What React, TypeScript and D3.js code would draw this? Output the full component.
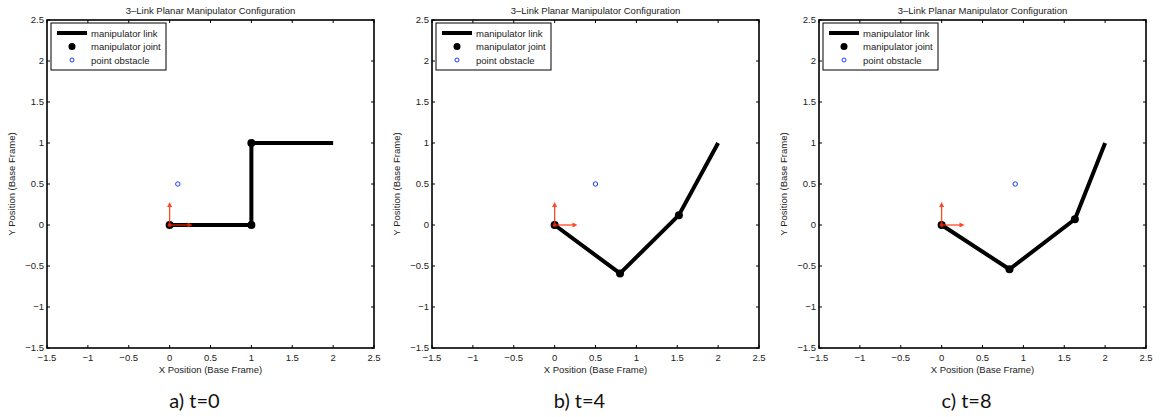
import React from 'react'
import * as d3 from 'd3'

// tick values shared by both axes
const xTicks = [-1.5, -1, -0.5, 0, 0.5, 1, 1.5, 2, 2.5]
const yTicks = [-1.5, -1, -0.5, 0, 0.5, 1, 1.5, 2, 2.5]

const captions = ['a) t=0', 'b) t=4', 'c) t=8']

// manipulator configurations: base, joint 2, joint 3, end effector
const t0X = [0, 1, 1, 2]
const t0Y = [0, 0, 1, 1]
const t4X = [0, 0.8, 1.52, 2]
const t4Y = [0, -0.59, 0.12, 1]
const t8X = [0, 0.83, 1.63, 2]
const t8Y = [0, -0.54, 0.07, 1]

// obstacle position per frame
const obstacleX = [0.1, 0.5, 0.9]
const obstacleY = [0.5, 0.5, 0.5]

// base frame arrow length
const frameLen = 0.28

const legendItems = ['manipulator link', 'manipulator joint', 'point obstacle']

const configsX = [t0X, t4X, t8X]
const configsY = [t0Y, t4Y, t8Y]

const panelLeft = [47, 432, 819]
const plotW = 327
const plotH = 328
const plotTop = 20
const font = '"Liberation Sans", Arial, sans-serif'
const red = '#ff2a00'

function Panel({ idx }: { idx: number }) {
  const left = panelLeft[idx]
  const x = d3.scaleLinear().domain([-1.5, 2.5]).range([left, left + plotW])
  const y = d3.scaleLinear().domain([-1.5, 2.5]).range([plotTop + plotH, plotTop])
  const xs = configsX[idx]
  const ys = configsY[idx]
  const pts = xs.map((v, i) => [x(v), y(ys[i])] as [number, number])
  const line = d3.line()(pts) || ''
  const bottom = plotTop + plotH
  const right = left + plotW
  const tickLen = 3
  const cx = left + plotW / 2
  const cy = plotTop + plotH / 2
  const ox = x(0), oy = y(0)
  const ax = x(frameLen), ay = y(frameLen)

  return (
    <g fontFamily={font} fill="#222">
      <rect x={left} y={plotTop} width={plotW} height={plotH} fill="#fff" />
      <text x={cx} y={plotTop - 6} fontSize={9.5} textAnchor="middle">3–Link Planar Manipulator Configuration</text>

      {/* ticks on all four sides */}
      {xTicks.map(t => (
        <g key={'x' + t}>
          <line x1={x(t)} x2={x(t)} y1={bottom} y2={bottom - tickLen} stroke="#000" />
          <line x1={x(t)} x2={x(t)} y1={plotTop} y2={plotTop + tickLen} stroke="#000" />
          <text x={x(t)} y={bottom + 13} fontSize={9.5} textAnchor="middle">{d3.format('')(t).replace('-', '−')}</text>
        </g>
      ))}
      {yTicks.map(t => (
        <g key={'y' + t}>
          <line x1={left} x2={left + tickLen} y1={y(t)} y2={y(t)} stroke="#000" />
          <line x1={right} x2={right - tickLen} y1={y(t)} y2={y(t)} stroke="#000" />
          <text x={left - 3} y={y(t) + 3} fontSize={9.5} textAnchor="end">{d3.format('')(t).replace('-', '−')}</text>
        </g>
      ))}
      <rect x={left} y={plotTop} width={plotW} height={plotH} fill="none" stroke="#000" strokeWidth={1.6} />

      <text x={cx} y={bottom + 25} fontSize={9.5} textAnchor="middle">X Position (Base Frame)</text>
      <text transform={`translate(${left - 32},${cy}) rotate(-90)`} fontSize={9.5} textAnchor="middle">Y Position (Base Frame)</text>

      {/* obstacle */}
      <circle cx={x(obstacleX[idx])} cy={y(obstacleY[idx])} r={2.2} fill="none" stroke="#1a3cff" strokeWidth={1} />

      {/* links and joints */}
      <path d={line} fill="none" stroke="#000" strokeWidth={4} strokeLinejoin="round" />
      {pts.slice(0, 3).map((p, i) => (
        <circle key={i} cx={p[0]} cy={p[1]} r={4} fill="#000" />
      ))}

      {/* base frame */}
      <g stroke={red} fill={red} opacity={0.85}>
        <line x1={ox} y1={oy} x2={ax - 4} y2={oy} strokeWidth={1.3} />
        <path d={`M${ax},${oy} L${ax - 5},${oy - 2.5} L${ax - 5},${oy + 2.5} Z`} stroke="none" />
        <line x1={ox} y1={oy} x2={ox} y2={ay + 4} strokeWidth={1.3} />
        <path d={`M${ox},${ay} L${ox - 2.5},${ay + 5} L${ox + 2.5},${ay + 5} Z`} stroke="none" />
        <circle cx={ox} cy={oy} r={2} stroke="none" />
      </g>

      {/* legend */}
      <g transform={`translate(${left + 4},${plotTop + 3})`}>
        <rect x={0} y={0} width={115} height={47} fill="#fff" stroke="#000" strokeWidth={1} />
        {legendItems.map((label, i) => (
          <g key={label} transform={`translate(0,${10 + i * 13.5})`}>
            {i === 0 && <line x1={6} x2={36} y1={0} y2={0} stroke="#000" strokeWidth={4} />}
            {i === 1 && <circle cx={21} cy={0} r={3.5} fill="#000" />}
            {i === 2 && <circle cx={21} cy={0} r={2} fill="none" stroke="#1a3cff" strokeWidth={1} />}
            <text x={40} y={3.5} fontSize={9.5}>{label}</text>
          </g>
        ))}
      </g>

      <text x={cx - 16} y={408} fontSize={20} fontFamily="Lato, 'Open Sans', sans-serif" textAnchor="middle" fill="#111">{captions[idx]}</text>
    </g>
  )
}

export default function App() {
  return (
    <svg width={1163} height={417} style={{ position: 'absolute', left: 0, top: 0, background: '#fff' }}>
      <rect width={1163} height={417} fill="#fff" />
      {[0, 1, 2].map(i => <Panel key={i} idx={i} />)}
    </svg>
  )
}
